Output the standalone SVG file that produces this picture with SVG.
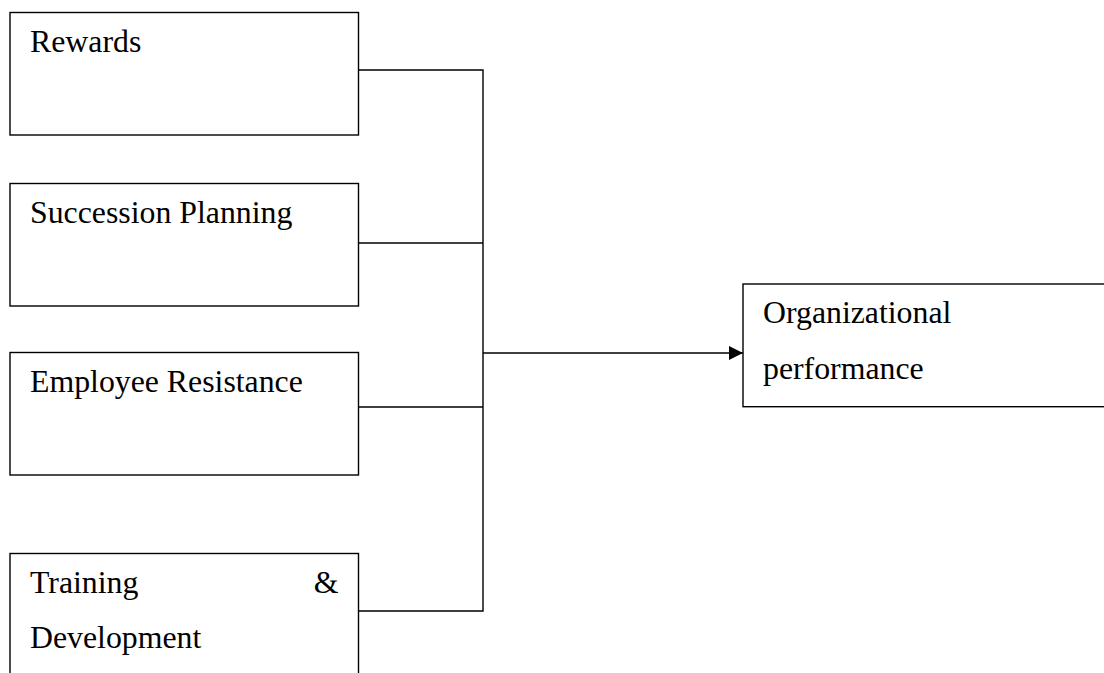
<svg xmlns="http://www.w3.org/2000/svg" width="1104" height="673" viewBox="0 0 1104 673">
<style>
.box{fill:#fff;stroke:#000;stroke-width:1.4}
.t{font-family:"Liberation Serif","Times New Roman",serif;font-size:31.8px;fill:#000}
.c{fill:none;stroke:#000;stroke-width:1.4}
</style>
<defs>
<marker id="ah" markerWidth="14" markerHeight="14" refX="14" refY="7" orient="auto" markerUnits="userSpaceOnUse">
<path d="M0,0 L14,7 L0,14 Z" fill="#000"/>
</marker>
</defs>
<rect width="1104" height="673" fill="#fff"/>
<g id="connectors">
<polyline class="c" points="358.5,70 483,70 483,611 358.5,611"/>
<line class="c" x1="358.5" y1="243" x2="483" y2="243"/>
<line class="c" x1="358.5" y1="407" x2="483" y2="407"/>
<line class="c" x1="483" y1="353" x2="743" y2="353" marker-end="url(#ah)"/>
</g>
<g id="rewards">
<rect class="box" x="10" y="12.5" width="348.5" height="122.5"/>
<text class="t" x="30" y="52.3">Rewards</text>
</g>
<g id="succession">
<rect class="box" x="10" y="183.5" width="348.5" height="122.5"/>
<text class="t" x="30" y="222.7">Succession Planning</text>
</g>
<g id="resistance">
<rect class="box" x="10" y="352.5" width="348.5" height="122.5"/>
<text class="t" x="30" y="392">Employee Resistance</text>
</g>
<g id="training">
<rect class="box" x="10" y="553.5" width="348.5" height="140"/>
<text class="t" x="30" y="593.3">Training</text>
<text class="t" x="338.5" y="593.3" text-anchor="end">&amp;</text>
<text class="t" x="30" y="648.3">Development</text>
</g>
<g id="performance">
<rect class="box" x="743" y="284" width="380" height="122.7"/>
<text class="t" x="763" y="323">Organizational</text>
<text class="t" x="763" y="379">performance</text>
</g>
</svg>
